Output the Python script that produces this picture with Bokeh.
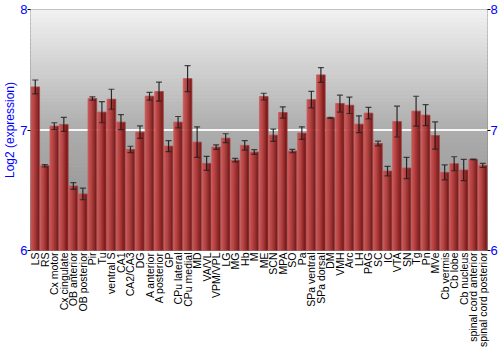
import numpy as np
from bokeh.plotting import figure
from bokeh.models import FixedTicker, LinearAxis, Range1d, Whisker, ColumnDataSource, TeeHead
from bokeh.embed import file_html
from bokeh.resources import INLINE

regions = ["LS", "RS", "Cx motor", "Cx cingulate", "OB anterior", "OB posterior", "Pir", "Tu",
           "ventral S", "CA1", "CA2/CA3", "DG", "A anterior", "A posterior", "GP", "CPu lateral",
           "CPu medial", "MD", "VA/VL", "VPM/VPL", "LG", "MG", "Hb", "M", "ME", "SCN", "MPA", "SO",
           "Pa", "SPa ventral", "SPa dorsal", "DM", "VMH", "Arc", "LH", "PAG", "SC", "IC", "VTA",
           "SN", "Tg", "Pn", "MVe", "Cb vermis", "Cb lobe", "Cb nucleus", "spinal cord anterior",
           "spinal cord posterior"]
expression = [7.357, 6.703, 7.032, 7.046, 6.535, 6.469, 7.261, 7.148,
              7.255, 7.065, 6.839, 6.982, 7.280, 7.319, 6.866, 7.065,
              7.426, 6.899, 6.723, 6.858, 6.932, 6.750, 6.872, 6.817, 7.277, 6.957, 7.145, 6.825,
              6.974, 7.252, 7.457, 7.101, 7.219, 7.205, 7.048, 7.140, 6.888, 6.659, 7.070,
              6.684, 7.156, 7.123, 6.954, 6.648, 6.720, 6.668, 6.756,
              6.706]
error = [0.058, 0.010, 0.028, 0.058, 0.028, 0.048, 0.014, 0.088,
         0.083, 0.062, 0.026, 0.052, 0.032, 0.079, 0.046, 0.047,
         0.108, 0.127, 0.058, 0.019, 0.037, 0.015, 0.039, 0.020, 0.028, 0.051, 0.047, 0.014,
         0.052, 0.068, 0.061, 0.005, 0.070, 0.068, 0.070, 0.048, 0.019, 0.039, 0.128,
         0.088, 0.124, 0.087, 0.113, 0.062, 0.058, 0.088, 0.003,
         0.017]
y_ticks = [6, 7, 8]
y_min, y_max = 6, 8

n = len(regions)
xs = np.arange(n)
vals = np.array(expression)
errs = np.array(error)

p = figure(width=500, height=350, output_backend="svg", toolbar_location=None,
           x_range=Range1d(-0.5, n - 0.5), y_range=Range1d(y_min, y_max),
           min_border_left=0, min_border_right=0, min_border_top=9, min_border_bottom=99)
p.background_fill_color = "white"
p.border_fill_color = "white"
p.outline_line_color = "#777777"
p.outline_line_width = 1
p.xgrid.visible = False
p.ygrid.visible = False

# background vertical gradient
nb = 60
edges = np.linspace(y_min, y_max, nb + 1)
def bg_col(t):
    stops_t = [0.0, 0.5, 1.0]
    stops_c = [0x8a, 0xad, 0xf2]
    c = int(np.interp(t, stops_t, stops_c))
    return "#%02x%02x%02x" % (c, c, c)
cols = [bg_col((i + 0.5) / nb) for i in range(nb)]
p.quad(left=-0.5, right=n - 0.5, bottom=edges[:-1], top=edges[1:], fill_color=cols,
       line_color=cols, line_width=1)

# white line at 7
p.segment(x0=-0.5, x1=n - 0.5, y0=7, y1=7, line_color="white", line_width=2, line_alpha=0.9)

# bars with horizontal gradient
bw = 0.9
ns = 8
light = np.array([0xcc, 0x50, 0x50])
dark = np.array([0x78, 0x16, 0x16])
for k in range(ns):
    t = k / (ns - 1)
    tt = t ** 1.3
    c = (light * (1 - tt) + dark * tt).astype(int)
    col = "#%02x%02x%02x" % tuple(c)
    l = xs - bw / 2 + bw * k / ns
    r = xs - bw / 2 + bw * (k + 1) / ns
    p.quad(left=l, right=r, bottom=y_min, top=vals, fill_color=col, line_color=col,
           line_width=0.5)
p.quad(left=xs - bw / 2, right=xs + bw / 2, bottom=y_min, top=vals, fill_color=None,
       line_color="#c86060", line_width=0.6, line_alpha=0.8)

# error bars
src = ColumnDataSource(dict(x=xs, lo=vals - errs, hi=vals + errs))
wh = Whisker(source=src, base="x", lower="lo", upper="hi", line_color="#111111",
             line_width=1.2, line_alpha=0.85, level="overlay")
wh.upper_head = TeeHead(size=6, line_color="#222222", line_width=1.2, line_alpha=0.8)
wh.lower_head = TeeHead(size=6, line_color="#222222", line_width=1.2, line_alpha=0.8)
p.add_layout(wh)

font = "Liberation Sans"
# x axis
xa = p.xaxis[0]
xa.ticker = FixedTicker(ticks=list(xs))
xa.major_label_overrides = {int(i): regions[i] for i in xs}
xa.major_label_orientation = np.pi / 2
xa.major_label_text_font = font
xa.major_label_text_font_size = "10.5px"
xa.major_label_text_color = "black"
xa.major_tick_line_color = None
xa.major_tick_out = 0
xa.major_tick_in = 0
xa.minor_tick_line_color = None
xa.minor_tick_out = 0
xa.axis_line_color = None
xa.major_label_standoff = 2

# left axis
ya = p.yaxis[0]
ya.ticker = FixedTicker(ticks=y_ticks)
ya.axis_label = "Log2 (expression)"
ya.axis_label_text_font = font
ya.axis_label_text_font_style = "normal"
ya.axis_label_text_font_size = "12px"
ya.axis_label_text_color = "#0000ff"
ya.axis_label_standoff = 0
ya.major_label_text_font = font
ya.major_label_text_font_size = "13px"
ya.major_label_text_color = "#0000ff"
ya.major_label_standoff = 0
ya.major_tick_out = 3
ya.major_tick_in = 0
ya.minor_tick_line_color = None
ya.axis_line_color = None

ra = LinearAxis(ticker=FixedTicker(ticks=y_ticks))
ra.major_label_text_font = font
ra.major_label_text_font_size = "13px"
ra.major_label_text_color = "#0000ff"
ra.major_label_standoff = 0
ra.major_tick_out = 3
ra.major_tick_in = 0
ra.minor_tick_line_color = None
ra.axis_line_color = None
p.add_layout(ra, "right")

open("out.html", "w").write(file_html(p, INLINE))
